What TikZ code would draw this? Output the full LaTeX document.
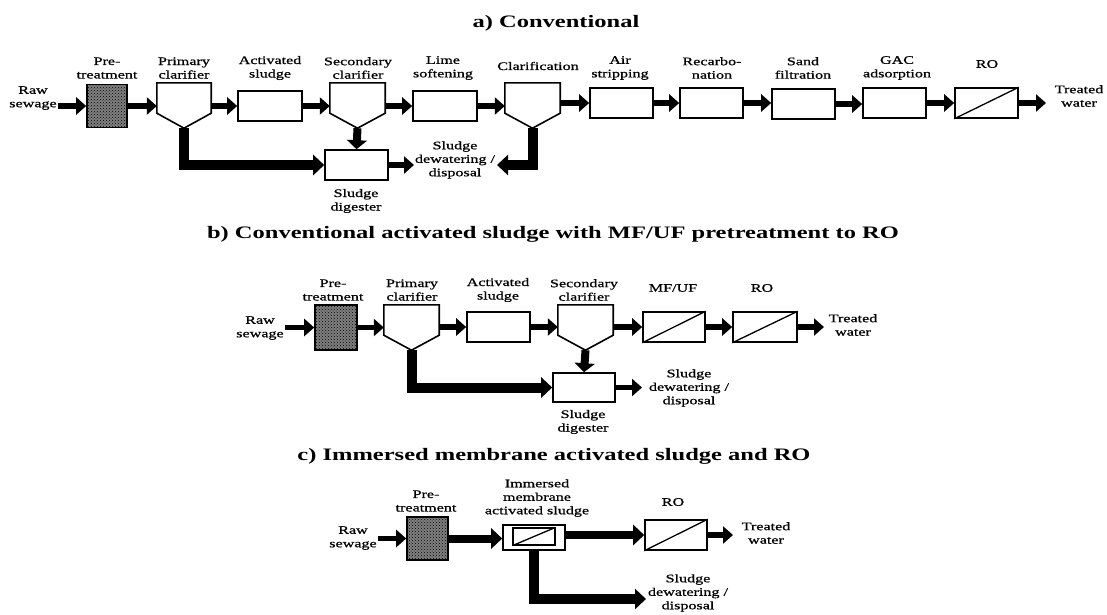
\documentclass[tikz,border=0pt]{standalone}
\usepackage{fontspec}
\setmainfont{Liberation Serif}[FakeStretch=1.4]
\newfontfamily\labfont{Liberation Serif}[FakeStretch=1.4,FakeBold=0.8]
\usetikzlibrary{arrows.meta,patterns,calc}
\tikzset{
  flow/.style={line width=5.5pt,-{Triangle[length=10pt,width=17pt]}},
  bigflow/.style={line width=8pt,-{Triangle[length=11pt,width=20pt]}},
  sludge/.style={line width=10pt,line join=miter,-{Triangle[length=11pt,width=20pt]}},
  downarr/.style={line width=8pt,-{Triangle[length=9pt,width=20pt]}},
  pbox/.style={draw,line width=1.6pt,minimum height=30pt,inner sep=0pt,fill=white},
  pretbox/.style={draw,line width=1.6pt,inner sep=0pt,fill=black!50,postaction={pattern=crosshatch dots,pattern color=black}},
  clarbox/.style={inner sep=0pt,minimum height=30pt},
  clarline/.style={line width=1.6pt,line join=miter},
  lab/.style={align=center,font=\labfont\fontsize{11.5}{13.5}\selectfont,inner sep=1pt},
  ttl/.style={font=\fontsize{17.5}{20}\selectfont\bfseries,inner sep=1pt}
}
\newcommand\drawclar[1]{%
  \coordinate (#1-tip) at ([yshift=-15pt]#1.south);
  \draw[clarline] (#1.north west) -- (#1.south west) -- (#1-tip) -- (#1.south east) -- (#1.north east) -- cycle;}
\newcommand\drawmem[1]{\draw[line width=1.3pt] (#1.south west) -- (#1.north east);}
\begin{document}
\begin{tikzpicture}[x=1pt,y=-1pt]
\useasboundingbox (0,0) rectangle (1107,614);
% ---------------- a) ----------------
\node[ttl] (ta) at (556,23) {a) Conventional};
\node[lab] (a-raw) at (33,98) {Raw\\sewage};
\node[pretbox,minimum width=40pt,minimum height=43pt] (a-pre) at (107,106) {};
\node[lab] (a-prel) at (107,68) {Pre-\\treatment};
\node[clarbox,minimum width=54pt] (a-pc) at (184,98) {};
\drawclar{a-pc}
\node[lab] (a-pcl) at (184,68) {Primary\\clarifier};
\node[pbox,minimum width=64pt] (a-as) at (270,106) {};
\node[lab] (a-asl) at (270,68) {Activated\\sludge};
\node[clarbox,minimum width=55pt] (a-sc) at (357.5,98) {};
\drawclar{a-sc}
\node[lab] (a-scl) at (358,68) {Secondary\\clarifier};
\node[pbox,minimum width=64pt] (a-ls) at (445,106) {};
\node[lab] (a-lsl) at (443,68) {Lime\\softening};
\node[clarbox,minimum width=55pt] (a-cl) at (532.5,98) {};
\drawclar{a-cl}
\node[lab] (a-cll) at (538,66) {Clarification};
\node[pbox,minimum width=63pt] (a-ast) at (621.5,103) {};
\node[lab] (a-astl) at (620,68) {Air\\stripping};
\node[pbox,minimum width=63pt] (a-rc) at (711.5,103) {};
\node[lab] (a-rcl) at (712,68) {Recarbo-\\nation};
\node[pbox,minimum width=63pt] (a-sf) at (803.5,104) {};
\node[lab] (a-sfl) at (803,68) {Sand\\filtration};
\node[pbox,minimum width=63pt] (a-gac) at (894.5,103) {};
\node[lab] (a-gacl) at (897,68) {GAC\\adsorption};
\node[pbox,minimum width=63pt] (a-ro) at (986.5,103) {};
\drawmem{a-ro}
\node[lab] (a-rol) at (987,64) {RO};
\node[lab] (a-tw) at (1079,96) {Treated\\water};
\node[pbox,minimum width=63pt] (a-dig) at (356.5,165) {};
\node[lab] (a-digl) at (356,201) {Sludge\\digester};
\node[lab] (a-dw) at (455,160) {Sludge\\dewatering /\\disposal};
\coordinate (a-dwin) at (414,165);
\coordinate (a-clout) at (497,165);
\coordinate (a-twin) at (1046,103);
\draw[flow] (a-raw.east |- a-pre.west) -- (a-pre.west);
\draw[flow] (a-pre.east) -- (a-pre.east -| a-pc.west);
\draw[flow] (a-pc.east |- a-as.west) -- (a-as.west);
\draw[flow] (a-as.east) -- (a-as.east -| a-sc.west);
\draw[flow] (a-sc.east |- a-ls.west) -- (a-ls.west);
\draw[flow] (a-ls.east) -- (a-ls.east -| a-cl.west);
\draw[flow] (a-cl.east |- a-ast.west) -- (a-ast.west);
\draw[flow] (a-ast.east) -- (a-rc.west);
\draw[flow] (a-rc.east) -- (a-rc.east -| a-sf.west);
\draw[flow] (a-sf.east) -- (a-sf.east -| a-gac.west);
\draw[flow] (a-gac.east) -- (a-ro.west);
\draw[flow] (a-ro.east) -- (a-twin);
\draw[downarr] (a-sc-tip) -- (a-dig.north);
\draw[sludge] (a-pc-tip) |- (a-dig.west);
\draw[flow] (a-dig.east) -- (a-dwin);
\draw[sludge] (a-cl-tip) |- (a-clout);
% ---------------- b) ----------------
\node[ttl] (tb) at (553,234) {b) Conventional activated sludge with MF/UF pretreatment to RO};
\node[lab] (b-raw) at (260,328) {Raw\\sewage};
\node[pretbox,minimum width=42pt,minimum height=45pt] (b-pre) at (336,327.5) {};
\node[lab] (b-prel) at (333,290) {Pre-\\treatment};
\node[clarbox,minimum width=55pt] (b-pc) at (411.5,320) {};
\drawclar{b-pc}
\node[lab] (b-pcl) at (412,290) {Primary\\clarifier};
\node[pbox,minimum width=63pt] (b-as) at (498.5,327) {};
\node[lab] (b-asl) at (498,290) {Activated\\sludge};
\node[clarbox,minimum width=55pt] (b-sc) at (585.5,320) {};
\drawclar{b-sc}
\node[lab] (b-scl) at (584,290) {Secondary\\clarifier};
\node[pbox,minimum width=62pt] (b-mf) at (674,327) {};
\drawmem{b-mf}
\node[lab] (b-mfl) at (673,288) {MF/UF};
\node[pbox,minimum width=64pt] (b-ro) at (765,327) {};
\drawmem{b-ro}
\node[lab] (b-rol) at (762,288) {RO};
\node[lab] (b-tw) at (853,325) {Treated\\water};
\node[pbox,minimum width=62pt,minimum height=29pt] (b-dig) at (584,387.5) {};
\node[lab] (b-digl) at (583,422) {Sludge\\digester};
\node[lab] (b-dw) at (689,388) {Sludge\\dewatering /\\disposal};
\coordinate (b-dwin) at (642,387.5);
\coordinate (b-twin) at (824,327);
\draw[flow] (b-raw.east |- b-pre.west) -- (b-pre.west);
\draw[flow] (b-pre.east) -- (b-pre.east -| b-pc.west);
\draw[flow] (b-pc.east |- b-as.west) -- (b-as.west);
\draw[flow] (b-as.east) -- (b-as.east -| b-sc.west);
\draw[flow] (b-sc.east |- b-mf.west) -- (b-mf.west);
\draw[flow] (b-mf.east) -- (b-ro.west);
\draw[flow] (b-ro.east) -- (b-twin);
\draw[downarr] (b-sc-tip) -- (b-dig.north);
\draw[sludge] (b-pc-tip) |- (b-dig.west);
\draw[flow] (b-dig.east) -- (b-dwin);
% ---------------- c) ----------------
\node[ttl] (tc) at (554,456) {c) Immersed membrane activated sludge and RO};
\node[lab] (c-raw) at (353,538) {Raw\\sewage};
\node[pretbox,minimum width=41pt,minimum height=43pt] (c-pre) at (427.5,538.5) {};
\node[lab] (c-prel) at (426,501) {Pre-\\treatment};
\node[pbox,minimum width=62pt,minimum height=25pt] (c-imm) at (534,537.5) {};
\node[pbox,minimum width=42pt,minimum height=17pt,line width=1.3pt] (c-immin) at (534,536.5) {};
\drawmem{c-immin}
\node[lab] (c-imml) at (537,498) {Immersed\\membrane\\activated sludge};
\node[pbox,minimum width=62pt] (c-ro) at (676,535) {};
\drawmem{c-ro}
\node[lab] (c-rol) at (673,502) {RO};
\node[lab] (c-tw) at (766,533) {Treated\\water};
\node[lab] (c-dw) at (688,593) {Sludge\\dewatering /\\disposal};
\coordinate (c-dwin) at (646,599);
\coordinate (c-twin) at (733,535);
\draw[flow] (c-raw.east |- c-pre.west) -- (c-pre.west);
\draw[bigflow] (c-pre.east) -- (c-pre.east -| c-imm.west);
\draw[bigflow] (c-imm.east |- c-ro.west) -- (c-ro.west);
\draw[flow] (c-ro.east) -- (c-twin);
\draw[sludge] (c-imm.south) |- (c-dwin);
\end{tikzpicture}
\end{document}
